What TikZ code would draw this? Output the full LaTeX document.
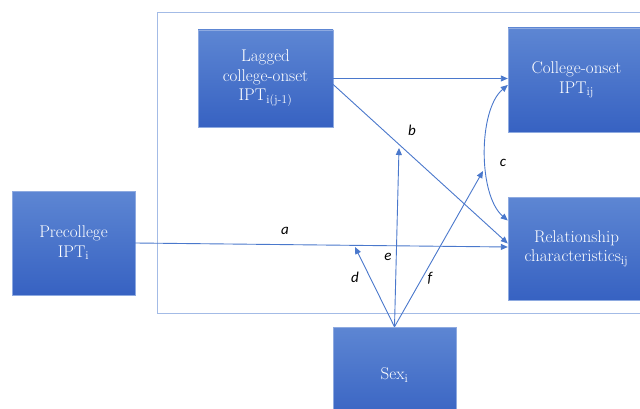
\documentclass[tikz,border=0pt]{standalone}
\usepackage{fontspec}
\newfontfamily\labfont{Carlito}
\usetikzlibrary{arrows.meta,calc}
\definecolor{boxtop}{HTML}{5D86D3}
\definecolor{boxbot}{HTML}{3762C2}
\definecolor{linecol}{HTML}{4A78CC}
\definecolor{framecol}{HTML}{A3BBE6}
\tikzset{
  varbox/.style={rectangle, top color=boxtop, bottom color=boxbot, draw=boxtop!70!white, line width=0.4pt,
    text=white, align=center, inner sep=0pt, font=\fontsize{17}{19.5}\selectfont},
  conn/.style={draw=linecol, line width=0.9pt, -{Triangle[length=7pt,width=6pt]}},
  biconn/.style={draw=linecol, line width=0.9pt, {Triangle[length=7pt,width=6pt]}-{Triangle[length=7pt,width=6pt]}},
  pathlab/.style={font=\labfont\itshape\fontsize{15}{17}\selectfont, text=black, inner sep=0pt},
}
\begin{document}
\begin{tikzpicture}[x=1pt,y=-1pt]
\clip (0,0) rectangle (640,409);
\fill[white] (0,0) rectangle (640,409);
% frame
\draw[framecol, line width=0.9pt] (157,12) rectangle (680,313);
% boxes
\node[varbox, minimum width=135pt, minimum height=97pt] (lag) at (265.5,78.5) {Lagged\\college-onset\\IPT\textsubscript{i(j-1)}};
\node[varbox, minimum width=137pt, minimum height=104pt] (col) at (576.5,80) {College-onset\\IPT\textsubscript{ij}};
\node[varbox, minimum width=137pt, minimum height=103pt] (rel) at (576.5,248.5) {Relationship\\characteristics\textsubscript{ij}};
\node[varbox, minimum width=123pt, minimum height=104pt] (pre) at (73.5,243) {Precollege\\IPT\textsubscript{i}};
\node[varbox, minimum width=123pt, minimum height=96pt] (sex) at (394.5,375) {Sex\textsubscript{i}};
% connector end points
\coordinate (bS) at ($(lag.east)+(0,6)$);
\coordinate (bE) at ($(rel.west)+(0,-5)$);
\coordinate (aE) at ($(rel.west)+(0,-1.5)$);
\coordinate (cT) at ($(col.west)+(0,5)$);
\coordinate (cB) at ($(rel.west)+(0,-28)$);
\coordinate (dE) at (355,247);
\coordinate (eE) at (399,148);
\coordinate (fE) at (483,171);
% connectors
\draw[conn] (lag.east) -- (lag.east -| col.west);
\draw[conn] (bS) -- (bE);
\draw[conn] (pre.east) -- (aE);
\draw[biconn] (cT) .. controls (478,110) and (478,195) .. (cB);
\draw[conn] (sex.north) -- (dE);
\draw[conn] (sex.north) -- (eE);
\draw[conn] (sex.north) -- (fE);
% labels
\node[pathlab] (la) at (285,231) {a};
\node[pathlab] (lb) at (412,130) {b};
\node[pathlab] (lc) at (503,163) {c};
\node[pathlab] (ld) at (355,277) {d};
\node[pathlab] (le) at (388,257) {e};
\node[pathlab] (lf) at (430,278) {f};
\end{tikzpicture}
\end{document}
